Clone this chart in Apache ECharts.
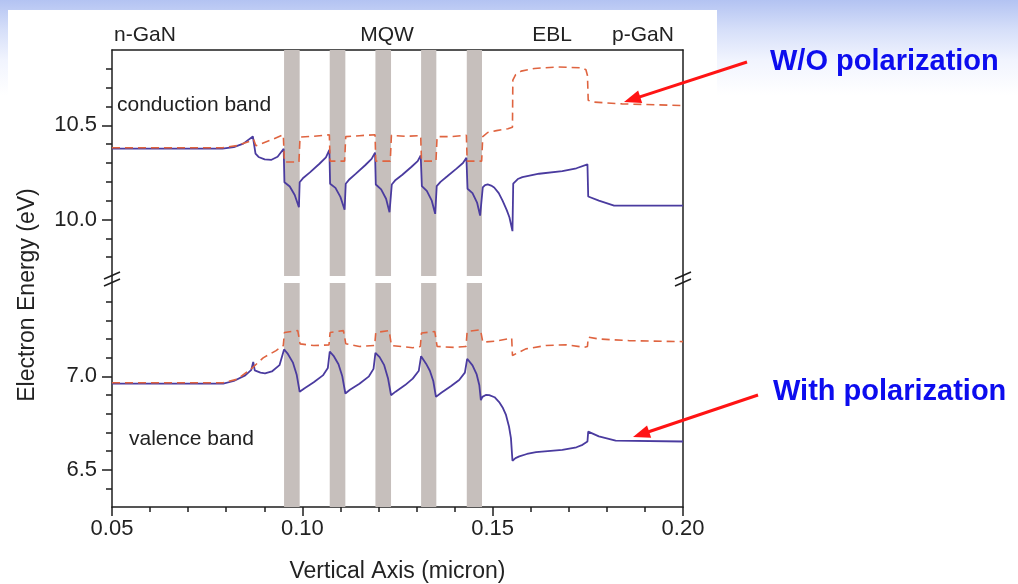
<!DOCTYPE html>
<html><head><meta charset="utf-8">
<script src="https://cdn.jsdelivr.net/npm/echarts@6/dist/echarts.min.js"></script>
<style>
html,body{margin:0;padding:0;width:1018px;height:584px;overflow:hidden;
background:linear-gradient(180deg,#b3c3f2 0px,#d6dff9 30px,#f1f4fe 60px,#ffffff 95px);}
#panel{position:absolute;left:8px;top:10px;width:709px;height:574px;background:#fff;}
#chart{position:absolute;left:0;top:0;width:1018px;height:584px;}
</style></head><body><div id="panel"></div><div id="chart"></div>
<script>
// ---- data ----
const xTickLabels = [0.05, 0.10, 0.15, 0.20];
const upperMajorTicks = [10.0, 10.5];
const upperMinorTicks = [9.8, 9.9, 10.1, 10.2, 10.3, 10.4, 10.6, 10.7, 10.8];
const lowerMajorTicks = [6.5, 7.0];
const lowerMinorTicks = [6.4, 6.6, 6.7, 6.8, 6.9, 7.1, 7.2, 7.3, 7.4];
const wells = [[0.0952, 0.0993], [0.1072, 0.1113], [0.1192, 0.1233], [0.1312, 0.1352], [0.1432, 0.1472]];

const cbWithPol = [
 [0.050,10.376],[0.079,10.376],[0.082,10.384],[0.0845,10.403],[0.0870,10.441],[0.0877,10.35],[0.0885,10.332],
 [0.0901,10.319],[0.0919,10.317],[0.0935,10.333],[0.0951,10.376],
 [0.0953,10.198],[0.0967,10.175],[0.0980,10.13],[0.0991,10.065],[0.0993,10.198],
 [0.1003,10.222],[0.1020,10.25],[0.1045,10.296],[0.1062,10.33],[0.1071,10.37],
 [0.1073,10.19],[0.1087,10.168],[0.1100,10.12],[0.1111,10.052],[0.1114,10.19],
 [0.1124,10.214],[0.1140,10.242],[0.1165,10.288],[0.1182,10.322],[0.1191,10.355],
 [0.1193,10.186],[0.1207,10.16],[0.1220,10.11],[0.1229,10.039],[0.1235,10.186],
 [0.1245,10.21],[0.1262,10.236],[0.1287,10.28],[0.1303,10.31],[0.1311,10.34],
 [0.1314,10.177],[0.1327,10.152],[0.1340,10.1],[0.1349,10.03],[0.1353,10.177],
 [0.1363,10.2],[0.1380,10.228],[0.1405,10.27],[0.1422,10.3],[0.1431,10.328],
 [0.1434,10.163],[0.1447,10.14],[0.1459,10.09],[0.1467,10.021],[0.1474,10.17],
 [0.1480,10.183],[0.1487,10.186],[0.1496,10.18],[0.1504,10.17],[0.1516,10.14],[0.1526,10.10],[0.1537,10.05],[0.1544,10.012],[0.1552,9.938],
 [0.1554,10.19],[0.1566,10.215],[0.1578,10.225],[0.1622,10.243],[0.1683,10.257],[0.1720,10.272],[0.1749,10.293],
 [0.1751,10.122],[0.1779,10.10],[0.1819,10.074],[0.200,10.074]
];
const cbWithoutPol = [
 [0.050,10.381],[0.079,10.381],[0.083,10.393],[0.0865,10.418],[0.0872,10.425],[0.0878,10.392],[0.0915,10.42],[0.0950,10.45],
 [0.0953,10.305],[0.0991,10.305],[0.0994,10.438],[0.1030,10.442],[0.1071,10.45],
 [0.1073,10.31],[0.1111,10.31],[0.1114,10.44],[0.1150,10.445],[0.1191,10.45],
 [0.1193,10.31],[0.1231,10.31],[0.1234,10.447],[0.1270,10.442],[0.1311,10.445],
 [0.1313,10.31],[0.1351,10.31],[0.1354,10.44],[0.1390,10.44],[0.1431,10.447],
 [0.1433,10.31],[0.1471,10.31],[0.1474,10.44],[0.1487,10.462],[0.1510,10.472],[0.1540,10.482],[0.1552,10.49],
 [0.1553,10.74],[0.1560,10.768],[0.1575,10.788],[0.1610,10.802],[0.1670,10.81],[0.1735,10.805],[0.1745,10.795],[0.1749,10.765],
 [0.1751,10.633],[0.1762,10.624],[0.1840,10.614],[0.200,10.605]
];
const vbWithPol = [
 [0.050,6.961],[0.0792,6.961],[0.0820,6.975],[0.0850,7.005],[0.0866,7.035],[0.0871,7.077],[0.0875,7.032],[0.0890,7.02],
 [0.0902,7.016],[0.0920,7.026],[0.0940,7.06],[0.0952,7.144],
 [0.0962,7.12],[0.0975,7.075],[0.0985,7.01],[0.0993,6.917],
 [0.1005,6.935],[0.1030,6.968],[0.1054,7.005],[0.1067,7.045],[0.1072,7.133],
 [0.1082,7.11],[0.1095,7.065],[0.1105,7.0],[0.1113,6.908],
 [0.1125,6.928],[0.1150,6.96],[0.1175,7.0],[0.1187,7.04],[0.1192,7.126],
 [0.1203,7.103],[0.1215,7.06],[0.1225,6.99],[0.1233,6.899],
 [0.1245,6.918],[0.1270,6.953],[0.1290,6.988],[0.1306,7.03],[0.1312,7.108],
 [0.1325,7.068],[0.1335,7.03],[0.1344,6.975],[0.1351,6.89],
 [0.1365,6.912],[0.1390,6.947],[0.1412,6.98],[0.1427,7.02],[0.1433,7.094],
 [0.1447,7.059],[0.1458,7.01],[0.1465,6.952],[0.1469,6.872],
 [0.1473,6.89],[0.1482,6.9],[0.1491,6.899],[0.1505,6.888],[0.1517,6.862],[0.1527,6.83],[0.1535,6.793],[0.1543,6.73],[0.1548,6.669],[0.1552,6.548],
 [0.1560,6.562],[0.1570,6.571],[0.1590,6.584],[0.1614,6.594],[0.1683,6.606],[0.1720,6.62],[0.1736,6.633],[0.1749,6.651],
 [0.1751,6.704],[0.1779,6.678],[0.1823,6.656],[0.200,6.651]
];
const vbWithoutPol = [
 [0.050,6.966],[0.0792,6.966],[0.0830,6.985],[0.0870,7.048],[0.0897,7.099],[0.0931,7.138],[0.0950,7.165],
 [0.0953,7.235],[0.0957,7.245],[0.0988,7.245],[0.0992,7.235],[0.0994,7.174],[0.1030,7.165],[0.1070,7.168],
 [0.1073,7.235],[0.1077,7.245],[0.1108,7.245],[0.1112,7.235],[0.1114,7.175],[0.1150,7.16],[0.1190,7.165],
 [0.1193,7.235],[0.1197,7.245],[0.1228,7.245],[0.1232,7.235],[0.1234,7.165],[0.1290,7.153],[0.1310,7.16],
 [0.1313,7.232],[0.1317,7.24],[0.1348,7.24],[0.1352,7.232],[0.1354,7.16],[0.1400,7.155],[0.1430,7.16],
 [0.1433,7.24],[0.1437,7.25],[0.1468,7.25],[0.1472,7.24],[0.1474,7.183],[0.1505,7.188],[0.1550,7.204],
 [0.1552,7.112],[0.1587,7.147],[0.1640,7.165],[0.1692,7.169],[0.1741,7.156],[0.1749,7.16],
 [0.1751,7.21],[0.1779,7.20],[0.1860,7.191],[0.200,7.186]
];

// ---- layout / style ----
const FONT = "'Liberation Sans', Arial, Helvetica, sans-serif";
const AX = '#1e1e1e';
const L = 112, R = 683, UT = 50, H = 226, LT = 283;
const solidColor = '#4a3b9f';
const dashColor = '#df6440';
const wellColor = '#c6bfbc';

const chart = echarts.init(document.getElementById('chart'), null, {renderer: 'canvas'});

function xAx(grid, bottom) {
  return {
    type: 'value', gridIndex: grid, min: 0.05, max: 0.20, interval: 0.05,
    position: bottom ? 'bottom' : 'top',
    axisLine: {show: true, lineStyle: {color: AX, width: 1.5}},
    axisTick: {show: bottom, inside: false, length: 9, lineStyle: {color: AX, width: 1.5}},
    minorTick: {show: bottom, splitNumber: 5, length: 5, lineStyle: {color: AX, width: 1.5}},
    axisLabel: {show: bottom, margin: 11, fontFamily: FONT, fontSize: 22, color: '#222',
      customValues: xTickLabels, formatter: v => v.toFixed(2)},
    splitLine: {show: false},
    name: bottom ? 'Vertical Axis (micron)' : '',
    nameLocation: 'middle', nameGap: 53,
    nameTextStyle: {fontFamily: FONT, fontSize: 23, color: '#222'}
  };
}
function yMajor(grid, min, max, ticks) {
  return {
    type: 'value', gridIndex: grid, min: min, max: max, position: 'left',
    axisLine: {show: true, onZero: false, lineStyle: {color: AX, width: 1.5}},
    axisTick: {show: true, length: 10, customValues: ticks, lineStyle: {color: AX, width: 1.5}},
    axisLabel: {show: true, margin: 15, fontFamily: FONT, fontSize: 22, color: '#222',
      customValues: ticks, formatter: v => v.toFixed(1)},
    splitLine: {show: false}
  };
}
function yMinor(grid, min, max, ticks) {
  return {
    type: 'value', gridIndex: grid, min: min, max: max, position: 'left', offset: 0,
    axisLine: {show: false},
    axisTick: {show: true, length: 6, customValues: ticks, lineStyle: {color: AX, width: 1.5}},
    axisLabel: {show: false}, splitLine: {show: false}
  };
}
function yRight(grid, min, max) {
  return {
    type: 'value', gridIndex: grid, min: min, max: max, position: 'right',
    axisLine: {show: true, onZero: false, lineStyle: {color: AX, width: 1.5}},
    axisTick: {show: false}, axisLabel: {show: false}, splitLine: {show: false}
  };
}
const wellAreas = wells.map(w => [{xAxis: w[0]}, {xAxis: w[1]}]);
function lineSeries(name, data, xi, yi, dashed, withWells) {
  const s = {
    name: name, type: 'line', xAxisIndex: xi, yAxisIndex: yi, data: data,
    symbol: 'none', smooth: false, z: dashed ? 4 : 3,
    lineStyle: {color: dashed ? dashColor : solidColor, width: dashed ? 1.6 : 1.8, type: dashed ? [8, 5] : 'solid'}
  };
  if (withWells) {
    s.markArea = {silent: true, itemStyle: {color: wellColor, opacity: 1}, data: wellAreas};
  }
  return s;
}

// text & arrow decorations
const TXT = '#222';
function label(text, x, y, align, size) {
  return {type: 'text', z: 50, style: {text: text, x: x, y: y, font: (size || 21) + 'px ' + FONT,
    fill: TXT, textAlign: align || 'left', textVerticalAlign: 'middle'}};
}
function arrow(x1, y1, x2, y2) {
  const dx = x2 - x1, dy = y2 - y1, len = Math.hypot(dx, dy);
  const ux = dx / len, uy = dy / len, hl = 17, hw = 6.5;
  const bx = x2 - ux * hl, by = y2 - uy * hl;
  return [
    {type: 'line', z: 50, shape: {x1: x1, y1: y1, x2: bx + ux * 2, y2: by + uy * 2},
      style: {stroke: '#ff1414', lineWidth: 3}},
    {type: 'polygon', z: 50, shape: {points: [[x2, y2], [bx - uy * hw, by + ux * hw], [bx + uy * hw, by - ux * hw]]},
      style: {fill: '#ff1414'}}
  ];
}
function breakMark(x) {
  const yA = UT + H, yB = LT;
  return [
    {type: 'line', z: 50, shape: {x1: x, y1: yA, x2: x, y2: yB}, style: {stroke: AX, lineWidth: 1.5}},
    {type: 'line', z: 50, shape: {x1: x - 8, y1: yA + 3, x2: x + 8, y2: yA - 4}, style: {stroke: AX, lineWidth: 1.5}},
    {type: 'line', z: 50, shape: {x1: x - 8, y1: yB + 3, x2: x + 8, y2: yB - 4}, style: {stroke: AX, lineWidth: 1.5}}
  ];
}

const graphics = [
  label('n-GaN', 114, 35),
  label('MQW', 387, 35, 'center'),
  label('EBL', 552, 35, 'center'),
  label('p-GaN', 643, 35, 'center'),
  label('conduction band', 117, 105),
  label('valence band', 129, 439),
  {type: 'text', z: 50, rotation: Math.PI / 2, x: 28, y: 295,
    style: {text: 'Electron Energy (eV)', x: 0, y: 0, font: '23px ' + FONT, fill: TXT,
      textAlign: 'center', textVerticalAlign: 'middle'}},
  {type: 'text', z: 50, style: {text: 'W/O polarization', x: 770, y: 62, font: 'bold 29px ' + FONT,
    fill: '#0c0cee', textAlign: 'left', textVerticalAlign: 'middle'}},
  {type: 'text', z: 50, style: {text: 'With polarization', x: 773, y: 392, font: 'bold 29px ' + FONT,
    fill: '#0c0cee', textAlign: 'left', textVerticalAlign: 'middle'}},
  ...arrow(747, 62, 624, 102),
  ...arrow(758, 395, 633, 437),
  ...breakMark(L),
  ...breakMark(R)
];

chart.setOption({
  animation: false,
  backgroundColor: 'transparent',
  grid: [
    {left: L, width: R - L, top: UT, height: H},
    {left: L, width: R - L, top: LT, height: H}
  ],
  xAxis: [xAx(0, false), xAx(1, true)],
  yAxis: [
    yMajor(0, 9.7, 10.9, upperMajorTicks), yMinor(0, 9.7, 10.9, upperMinorTicks), yRight(0, 9.7, 10.9),
    yMajor(1, 6.3, 7.5, lowerMajorTicks), yMinor(1, 6.3, 7.5, lowerMinorTicks), yRight(1, 6.3, 7.5)
  ],
  series: [
    lineSeries('CB with polarization', cbWithPol, 0, 0, false, true),
    lineSeries('CB W/O polarization', cbWithoutPol, 0, 0, true, false),
    lineSeries('VB with polarization', vbWithPol, 1, 3, false, true),
    lineSeries('VB W/O polarization', vbWithoutPol, 1, 3, true, false)
  ],
  graphic: graphics
});
</script>
</body></html>
